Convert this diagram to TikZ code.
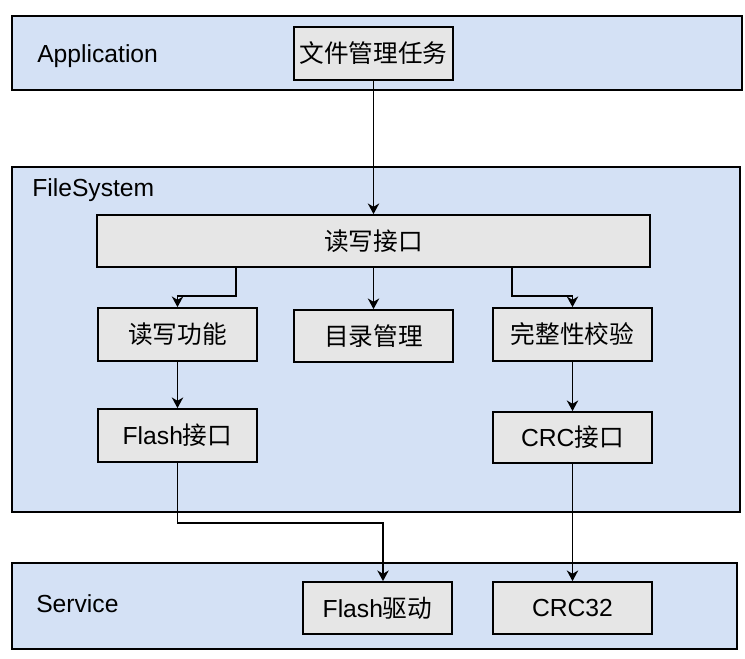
\documentclass[tikz,border=0pt]{standalone}
\usepackage{fontspec}
\setmainfont{Liberation Sans}
\newfontfamily\cjk{Noto Sans CJK SC}
\usetikzlibrary{arrows.meta,positioning}
\definecolor{layerfill}{HTML}{D4E1F5}
\definecolor{unitfill}{HTML}{E6E6E6}
\newcommand{\zh}[1]{{\cjk #1}}

\begin{document}
\begin{tikzpicture}[x=0.75pt,y=-0.75pt,
		layer/.style={draw=black,fill=layerfill,line width=1.3pt,inner sep=0pt},
		unit/.style={draw=black,fill=unitfill,line width=1.3pt,inner sep=0pt,minimum width=119.25pt,minimum height=39.75pt,font=\fontsize{18.5}{22}\selectfont},
		lbl/.style={anchor=base west,inner sep=0pt,font=\fontsize{18.5}{22}\selectfont},
		flow/.style={line width=1.35pt,-{Stealth[length=8pt,width=8.5pt,inset=2.5pt]}}]
		\useasboundingbox (0,0) rectangle (745,658);
		% layers
		\node (app) [layer,minimum width=547.5pt,minimum height=55.5pt] at (377,53) {};
		\node (fs) [layer,minimum width=546pt,minimum height=258.75pt] at (376,339.5) {};
		\node (svc) [layer,minimum width=543.75pt,minimum height=64.5pt] at (374.5,606) {};
		\node (applbl) [lbl] at (37,62) {Application};
		\node (fslbl) [lbl] at (32,196) {FileSystem};
		\node (svclbl) [lbl] at (36,612) {Service};
		% blocks
		\node (task) [unit] at (373.5,53.5) {\zh{文件管理任务}};
		\node (rw) [unit,minimum width=414.75pt,minimum height=39pt] at (373.5,241) {\zh{读写接口}};
		\node (rwfunc) [unit] at (177.5,334.5) {\zh{读写功能}};
		\node (dir) [unit,minimum height=39pt] at (373.5,336) {\zh{目录管理}};
		\node (check) [unit] at (572.5,334.5) {\zh{完整性校验}};
		\node (flashif) [unit] at (177.5,435.5) {Flash\zh{接口}};
		\node (crcif) [unit,minimum height=38.25pt] at (572.5,437.5) {CRC\zh{接口}};
		\node (flashdrv) [unit,minimum width=111.75pt,minimum height=39pt] at (377.5,608) {Flash\zh{驱动}};
		\node (crc) [unit,minimum height=39pt] at (572.5,608) {CRC32};
		% connectors
		\draw[flow] (task) -- (rw);
		\draw[flow] (236,0 |- rw.south) -- ++(0,28) -| (rwfunc.north);
		\draw[flow] (dir.north |- rw.south) -- (dir.north);
		\draw[flow] (512,0 |- rw.south) -- ++(0,28) -| (check.north);
		\draw[flow] (rwfunc) -- (flashif);
		\draw[flow] (check) -- (crcif);
		\draw[flow] (flashif.south) -- ++(0,60) -| (383,0 |- flashdrv.north);
		\draw[flow] (crcif) -- (crc);
\end{tikzpicture}
\end{document}
